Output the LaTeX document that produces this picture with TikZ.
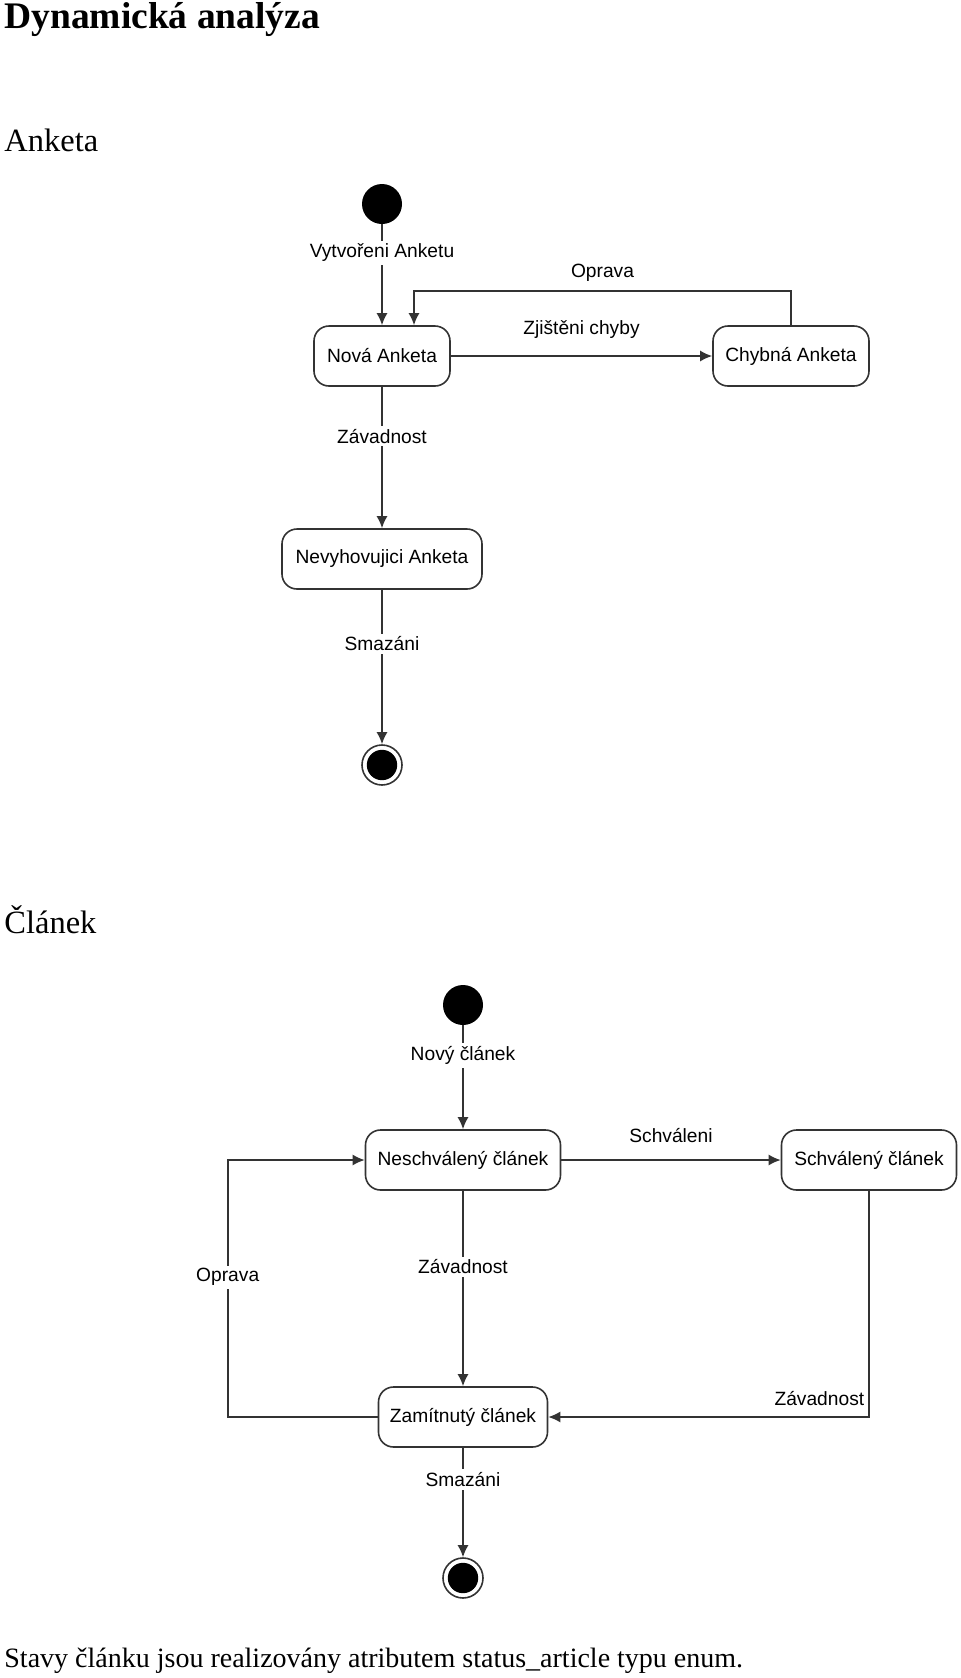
\documentclass[tikz,border=0pt]{standalone}
\usepackage{fontspec}
\setmainfont{Liberation Serif}
\newfontfamily\diafont{Liberation Sans}
\usetikzlibrary{arrows.meta}

\begin{document}
\begin{tikzpicture}[x=0.5pt,y=-0.5pt,
    txt/.style={inner sep=1.5pt,font=\diafont\fontsize{9.6}{11}\selectfont},
    lbl/.style={txt,fill=white},
    state/.style={txt,draw=black!80,line width=0.8pt,rounded corners=7.5pt,minimum height=30pt},
    init/.style={circle,fill=black,minimum size=20pt,inner sep=0pt},
    final/.style={circle,draw=black!80,line width=0.8pt,minimum size=20pt,inner sep=0pt,
        path picture={\fill (path picture bounding box.center) circle (7.6pt);}},
    tr/.style={draw=black!80,line width=0.8pt,-{Latex[length=6pt,width=5.5pt]}},
    head/.style={anchor=base west,inner sep=0pt}]
    \useasboundingbox (0,0) rectangle (960,1678);
    \node[head,font=\bfseries\fontsize{18.75}{22}\selectfont] (title) at (4,28) {Dynamická analýza};
    \node[head,font=\fontsize{16.25}{19}\selectfont] (anketa) at (4,151) {Anketa};
    \node[head,font=\fontsize{16.25}{19}\selectfont] (clanek) at (4,933) {Článek};
    \node[head,font=\fontsize{14}{17}\selectfont] (note) at (4,1667) {Stavy článku jsou realizovány atributem status\_article typu enum.};

    \node[init] (start1) at (382,204) {};
    \node[state,minimum width=68pt] (nova) at (382,356) {Nová Anketa};
    \node[state,minimum width=78pt] (chybna) at (791,356) {Chybná Anketa};
    \node[state,minimum width=100pt] (nevyh) at (382,559) {Nevyhovujici Anketa};
    \node[final] (end1) at (382,765) {};
    \draw[tr] (start1) -- node[lbl,pos=0.28] {Vytvořeni Anketu} (nova);
    \draw[tr] (nova) -- node[txt,above=7pt] {Zjištěni chyby} (chybna);
    \draw[tr] (chybna.north) -- ++(0,-34) -| node[txt,pos=0.25,above=3pt] {Oprava} ([xshift=16pt]nova.north);
    \draw[tr] (nova) -- node[lbl,pos=0.35] {Závadnost} (nevyh);
    \draw[tr] (nevyh) -- node[lbl,pos=0.35] {Smazáni} (end1);

    \node[init] (start2) at (463,1005) {};
    \node[state,minimum width=97.5pt] (nesch) at (463,1160) {Neschválený článek};
    \node[state,minimum width=87.5pt] (schv) at (869,1160) {Schválený článek};
    \node[state,minimum width=84.5pt] (zam) at (463,1417) {Zamítnutý článek};
    \node[final] (end2) at (463,1578) {};
    \draw[tr] (start2) -- node[lbl,pos=0.29] {Nový článek} (nesch);
    \draw[tr] (nesch) -- node[txt,above=7pt] {Schváleni} (schv);
    \draw[tr] (nesch) -- node[lbl,pos=0.39] {Závadnost} (zam);
    \draw[tr] (zam.west) -- ++(-150,0) |- node[lbl,pos=0.272] {Oprava} (nesch.west);
    \draw[tr] (schv.south) |- node[txt,pos=0.5,anchor=south east,inner sep=2pt,yshift=3.5pt] {Závadnost} (zam.east);
    \draw[tr] (zam) -- node[lbl,pos=0.29] {Smazáni} (end2);
\end{tikzpicture}
\end{document}
